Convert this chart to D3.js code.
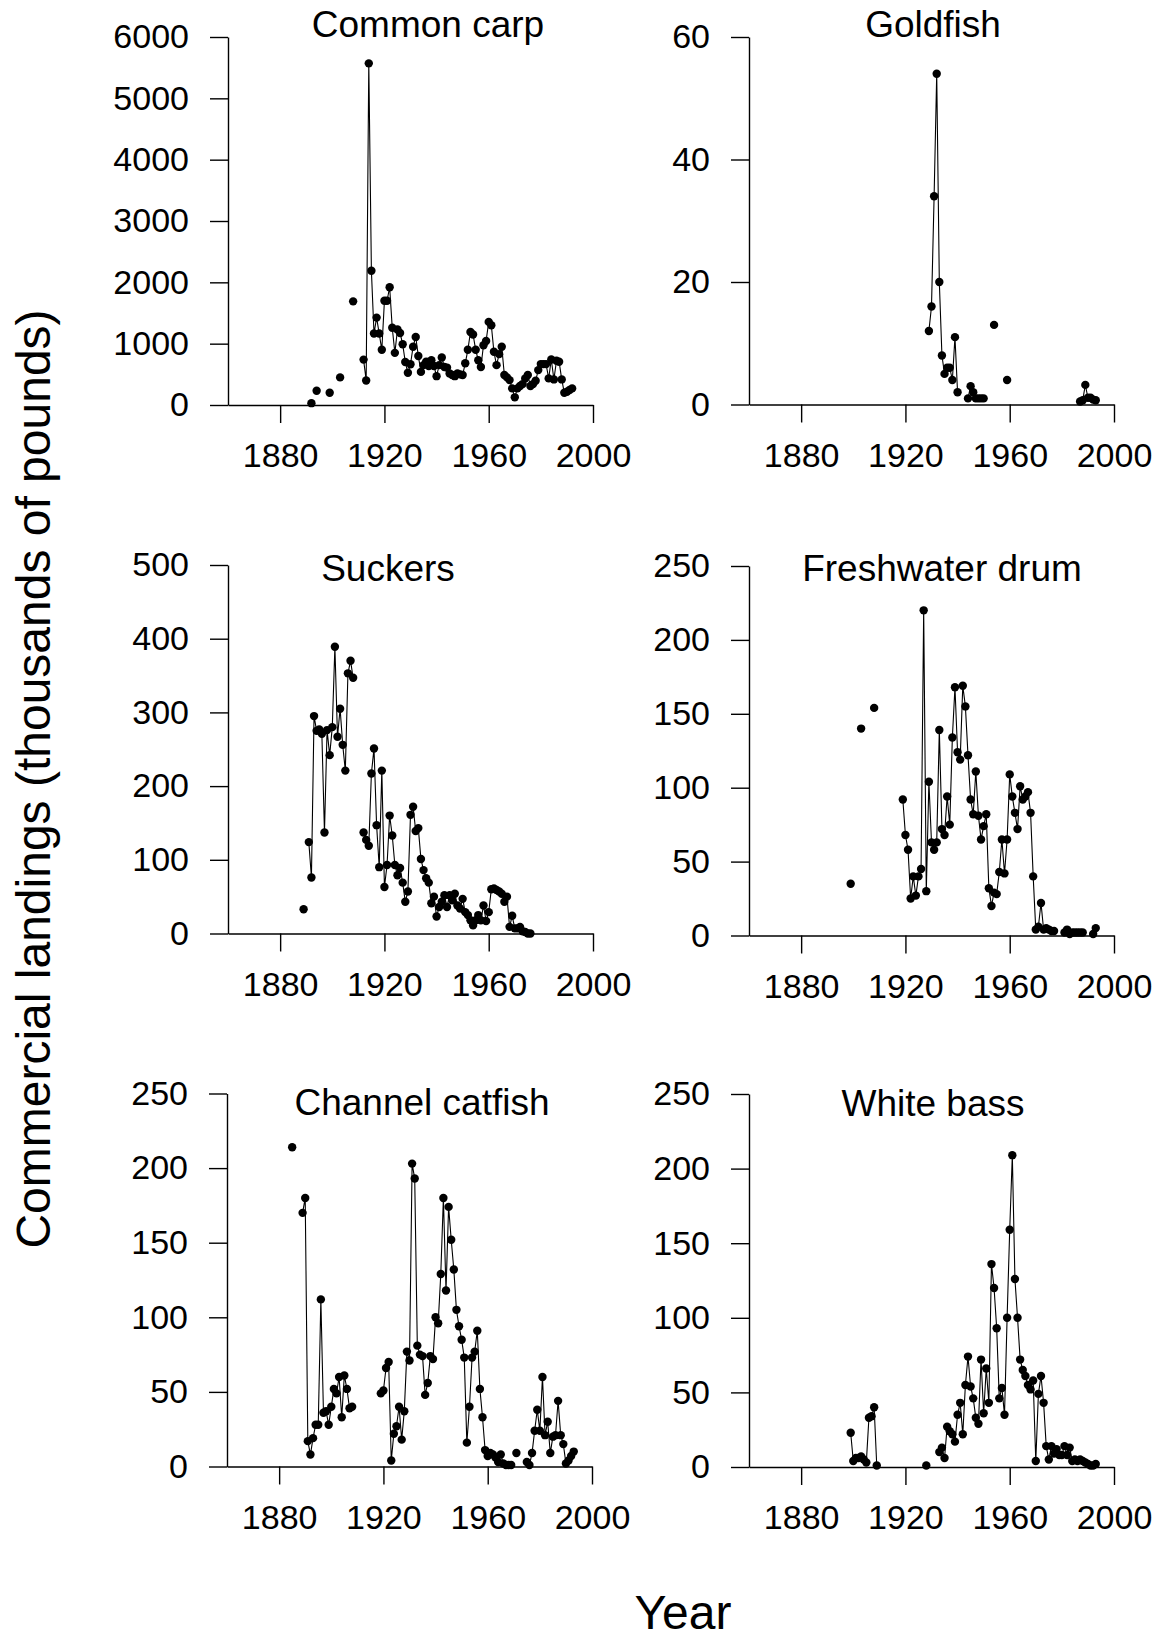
<!DOCTYPE html>
<html>
<head>
<meta charset="utf-8">
<script src="https://cdn.jsdelivr.net/npm/d3@7"></script>
<style>
  body { margin: 0; background: #fff; }
  svg { display: block; font-family: "Liberation Sans", Arial, sans-serif; }
  .axis path, .axis line { stroke: #000; stroke-width: 1.4; }
  .axis text { font-family: "Liberation Sans", Arial, sans-serif; font-size: 34px; fill: #000; }
  .title { font-size: 37px; fill: #000; text-anchor: middle; }
  .label { font-size: 48px; fill: #000; text-anchor: middle; }
  .series { fill: none; stroke: #000; stroke-width: 1.1; }
</style>
</head>
<body>
<svg width="1164" height="1641"></svg>
<script>
// landings in thousands of pounds, one value per year from the start year (null = no record)
const carpStart = 1892;
const carpLandings = [30, null, 232, null, null, null, null, 200, null, null, null, 450,
  null, null, null, null, 1690, null, null, null, 740, 400, 5570, 2190, 1165, 1425, 1165, 900,
  1700, 1700, 1920, 1260, 850, 1230, 1175, 990, 700, 525, 665, 950, 1110, 800, 540, 650, 705,
  635, 730, 635, 470, 650, 775, 620, 610, 515, 490, 470, 515, 500, 490, 680, 900, 1190, 1150,
  900, 730, 620, 975, 1045, 1355, 1300, 867, 650, 829, 949, 488, 450, 406, 271, 125, 271, 309,
  341, 434, 488, 309, 341, 396, 569, 667, 667, 667, 434, 742, 417, 721, 705, 417, 200, 217,
  244, 271];

const goldfishStart = 1929;
const goldfishLandings = [12, 16, 34, 54, 20, 8, 5, 6, 6, 4, 11, 2, null, null, null,
  1, 3, 2, 1, 1, 1, 1, null, null, null, 13, null, null, null, null, 4,
  null, null, null, null, null, null, null, null, null, null, null, null, null, null,
  null, null, null, null, null, null, null, null, null, null, null, null, null,
  0.5, 0.7, 3.2, 1.1, 1.1, 0.8, 0.7];

const suckersStart = 1889;
const suckersLandings = [33, null, 124, 76, 295, 275, 277, 271, 137, 276, 242, 280, 389, 267,
  305, 256, 221, 353, 370, 347, null, null, null, 137, 127, 119, 217, 251, 147, 90, 221, 63,
  93, 160, 133, 93, 79, 89, 69, 43, 57, 161, 172, 139, 143, 101, 86, 75, 69, 41, 50, 23, 36,
  43, 52, 36, 52, 45, 54, 38, 34, 47, 29, 25, 18, 11, 18, 25, 18, 38, 17, 29, 60, 61, 59, 57,
  54, 43, 50, 9, 24, 7, 7, 9, 3, 2, 0, 0];

const drumStart = 1899;
const drumLandings = [35, null, null, null, 140, null, null, null, null, 154,
  null, null, null, null, null, null, null, null, null, null,
  92, 68, 58, 25, 40, 27, 40, 45, 220, 30, 104, 63, 58, 63, 139, 72, 68, 94, 75, 134, 168,
  124, 119, 169, 155, 122, 92, 82, 111, 81, 65, 74, 82, 32, 20, 29, 28, 43, 65, 42, 65, 109,
  94, 83, 72, 101, 92, 94, 97, 83, 40, 4, 6, 22, 4, 5, 4, 3, 3, null, null, null,
  2, 4, 1, 2, 2, 2, 2, 2, null, null, null, 1, 5];

const catfishStart = 1885;
const catfishLandings = [214, null, null, null, 170, 180, 17, 8, 19, 28, 28, 112, 36, 37, 28,
  40, 52, 49, 60, 33, 61, 52, 39, 40, null, null, null, null, null, null, null, null, null, null,
  49, 51, 66, 70, 4, 22, 27, 40, 18, 37, 77, 71, 203, 193, 81, 75, 74, 48, 56, 74, 72, 100,
  96, 129, 180, 118, 174, 152, 132, 105, 94, 85, 73, 16, 40, 73, 77, 91, 52, 33, 11, 7, 9, 8,
  6, 3, 8, 2, 1, 1, 1, null, 9, null, null, null, 3, 1, 9, 24, 38, 24, 60, 21, 30, 9, 20, 21,
  44, 21, 15, 2, 4, 7, 10];

const bassStart = 1899;
const bassLandings = [23, 4, 6, 6, 7, 5, 3, 33, 34, 40, 1,
  null, null, null, null, null, null, null, null, null, null, null, null, null, null, null,
  null, null, null, 1, null, null, null, null,
  10, 13, 6, 27, 24, 22, 17, 35, 43, 22, 55, 74, 54, 46, 33, 29, 72, 36, 66, 43, 136, 120, 93,
  46, 53, 35, 100, 159, 209, 126, 100, 72, 65, 61, 55, 52, 58, 4, 49, 61, 43, 14, 5, 14, 9, 12,
  8, 8, 14, 8, 13, 4, 5, 4, 5, 4, 3, 2, 1, 1, 2];

const yearDomain = [1860, 2000];
const yearTicks = [1880, 1920, 1960, 2000];
const carpTicks = [0, 1000, 2000, 3000, 4000, 5000, 6000];
const goldfishTicks = [0, 20, 40, 60];
const suckersTicks = [0, 100, 200, 300, 400, 500];
const smallTicks = [0, 50, 100, 150, 200, 250];

let svg = d3.select("svg");

let panels = [
  { title: "Common carp", start: carpStart, values: carpLandings, yMax: 6000, ticks: carpTicks,
    left: 228, right: 593, top: 37, bottom: 405, tx: 428, ty: 37 },
  { title: "Goldfish", start: goldfishStart, values: goldfishLandings, yMax: 60, ticks: goldfishTicks,
    left: 749, right: 1114, top: 37, bottom: 404.5, tx: 933, ty: 37 },
  { title: "Suckers", start: suckersStart, values: suckersLandings, yMax: 500, ticks: suckersTicks,
    left: 228, right: 593, top: 565, bottom: 933.5, tx: 388, ty: 581 },
  { title: "Freshwater drum", start: drumStart, values: drumLandings, yMax: 250, ticks: smallTicks,
    left: 749, right: 1114, top: 566, bottom: 935.5, tx: 942, ty: 581 },
  { title: "Channel catfish", start: catfishStart, values: catfishLandings, yMax: 250, ticks: smallTicks,
    left: 227, right: 592, top: 1093.5, bottom: 1466.5, tx: 422, ty: 1115 },
  { title: "White bass", start: bassStart, values: bassLandings, yMax: 250, ticks: smallTicks,
    left: 749, right: 1114, top: 1094, bottom: 1467, tx: 933, ty: 1116 }
];

panels.forEach(p => {
  let x = d3.scaleLinear().domain(yearDomain).range([p.left, p.right]);
  let y = d3.scaleLinear().domain([0, p.yMax]).range([p.bottom, p.top]);

  let points = p.values.map((v, i) => ({ year: p.start + i, value: v }));

  let g = svg.append("g");

  g.append("g")
    .attr("class", "axis")
    .attr("transform", `translate(0,${p.bottom})`)
    .call(d3.axisBottom(x).tickValues(yearTicks).tickFormat(d3.format("d"))
      .tickSize(18).tickSizeOuter(0).tickPadding(20));

  g.append("g")
    .attr("class", "axis")
    .attr("transform", `translate(${p.left},0)`)
    .call(d3.axisLeft(y).tickValues(p.ticks).tickFormat(d3.format("d"))
      .tickSize(18).tickSizeOuter(0).tickPadding(21));

  let line = d3.line()
    .defined(d => d.value != null)
    .x(d => x(d.year))
    .y(d => y(d.value));

  g.append("path")
    .attr("class", "series")
    .attr("d", line(points));

  g.selectAll("circle")
    .data(points.filter(d => d.value != null))
    .enter().append("circle")
    .attr("cx", d => x(d.year))
    .attr("cy", d => y(d.value))
    .attr("r", 4.2)
    .style("fill", "#000");

  g.append("text")
    .attr("class", "title")
    .attr("x", p.tx)
    .attr("y", p.ty)
    .text(p.title);
});

// shared axis labels
svg.append("text")
  .attr("class", "label")
  .attr("transform", "translate(50,779) rotate(-90)")
  .text("Commercial landings (thousands of pounds)");

svg.append("text")
  .attr("class", "label")
  .attr("x", 683)
  .attr("y", 1629)
  .text("Year");
</script>
</body>
</html>
